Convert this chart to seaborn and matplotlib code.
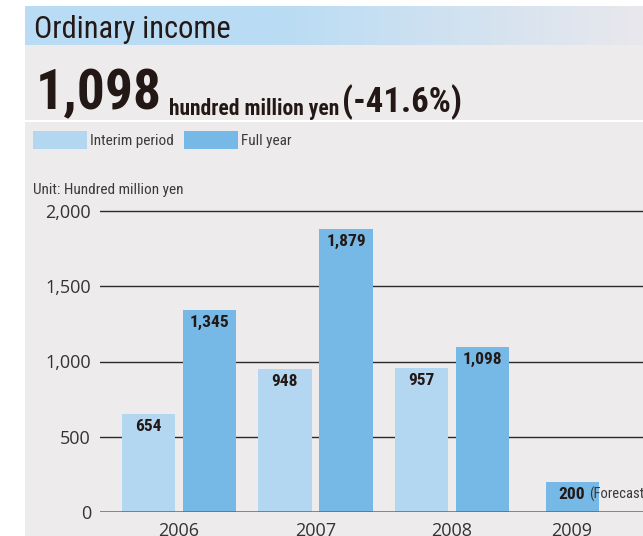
import matplotlib
matplotlib.use("Agg")
import matplotlib.pyplot as plt
import numpy as np
import pandas as pd
import seaborn as sns
from matplotlib.patches import Rectangle
from matplotlib.colors import to_rgb

# ---- data -------------------------------------------------------------
years = ["2006", "2007", "2008", "2009"]
interim = [654, 948, 957, None]
full_year = [1345, 1879, 1098, 200]
series_names = ["Interim period", "Full year"]
y_ticks = [0, 500, 1000, 1500, 2000]

title = "Ordinary income"
headline_value = "1,098"
headline_unit = "hundred million yen"
headline_change = "(-41.6%)"
unit_note = "Unit: Hundred million yen"
forecast_note = "(Forecast)"

# ---- styling / layout -------------------------------------------------
C_INTERIM = "#b3d6f1"
C_FULL = "#76b8e6"
PANEL = "#eeebec"
BAND = "#b9dcf4"
TXT = "#231815"
NARROW = ["Roboto Condensed", "Archivo Narrow", "Barlow Condensed", "DejaVu Sans"]
TICKFONT = ["Open Sans", "DejaVu Sans"]

group_pos = [0.0, 1.0, 2.0, 2.88]   # slot centres of the year groups
pair_offset = 0.2235                 # half distance between paired bars

rows = []
for i, yr in enumerate(years):
    has_pair = interim[i] is not None
    if has_pair:
        rows.append(dict(pos=group_pos[i] - pair_offset, value=interim[i],
                         series=series_names[0]))
    rows.append(dict(pos=group_pos[i] + (pair_offset if has_pair else 0.0),
                     value=full_year[i], series=series_names[1]))
df = pd.DataFrame(rows)

W, H = 643, 536
fig = plt.figure(figsize=(W / 100, H / 100), dpi=100)
fig.patch.set_facecolor("white")

# background canvas in pixel units
bg = fig.add_axes([0, 0, 1, 1])
bg.axis("off")
bg.add_patch(Rectangle((25, 6), W - 25, H - 6, color=PANEL, lw=0, zorder=0))

# title band: solid blue fading into the panel grey towards the right
n = 400
xs = np.linspace(25, W, n)
t = np.clip((xs - 280) / (W - 280), 0, 1)
c0, c1 = np.array(to_rgb(BAND)), np.array(to_rgb("#e9e8ed"))
grad = (c0[None, :] * (1 - t[:, None]) + c1[None, :] * t[:, None])[None, :, :]
bg.imshow(grad, extent=(25, W, 45, 6), aspect="auto", zorder=1,
          interpolation="bilinear")
bg.set_xlim(0, W)
bg.set_ylim(H, 0)

bg.plot([25, W], [121, 121], color="white", lw=1.5, zorder=2)

bg.text(34, 38, title, fontsize=22, family=NARROW, color=TXT,
        va="baseline", ha="left", zorder=3)
t1 = bg.text(36, 109, headline_value, fontsize=40, family=NARROW,
             fontweight="bold", color=TXT, va="baseline", ha="left", zorder=3)
t2 = bg.annotate(headline_unit, xy=(1, 0), xycoords=t1, xytext=(5, 0),
                 textcoords="offset points", fontsize=15.5, family=NARROW,
                 fontweight="bold", color=TXT, va="bottom", ha="left")
bg.annotate(headline_change, xy=(1, 0), xycoords=t2, xytext=(2, 0),
            textcoords="offset points", fontsize=25, family=NARROW,
            fontweight="bold", color=TXT, va="bottom", ha="left")

# legend swatches
for x0, name, col in [(33, series_names[0], C_INTERIM),
                      (184, series_names[1], C_FULL)]:
    bg.add_patch(Rectangle((x0, 131), 54, 18, color=col, lw=0, zorder=3))
    bg.text(x0 + 57, 141, name, fontsize=11, family=NARROW, color="#3a3a3a",
            va="center", ha="left", zorder=3)

bg.text(33, 190, unit_note, fontsize=11, family=NARROW, color="#3a3a3a",
        va="center", ha="left", zorder=3)

# ---- chart ------------------------------------------------------------
ax_top_px, ax_bot_px = 205, 512
ax = fig.add_axes([100 / W, (H - ax_bot_px) / H, (W - 100) / W,
                   (ax_bot_px - ax_top_px) / H])
ax.patch.set_alpha(0)

sns.barplot(data=df, x="pos", y="value", hue="series", hue_order=series_names,
            palette=[C_INTERIM, C_FULL], native_scale=True, dodge=False,
            width=0.87, saturation=1, errorbar=None, legend=False,
            linewidth=0, ax=ax, zorder=2)

px_per_val = 301 / 2000
ax.set_ylim(0, (ax_bot_px - ax_top_px) / px_per_val)
x0_unit = -79 / 136.5
ax.set_xlim(x0_unit, x0_unit + (W - 100) / 136.5)

ax.set_yticks(y_ticks)
ax.set_yticklabels([f"{v:,}" for v in y_ticks], family=TICKFONT,
                   fontsize=13, color="#333333")
ax.set_xticks(group_pos)
ax.set_xticklabels(years, family=TICKFONT, fontsize=13, color="#333333")
ax.tick_params(axis="y", length=0, pad=6.5)
ax.tick_params(axis="x", length=0, pad=7)
ax.set_xlabel("")
ax.set_ylabel("")
for s in ax.spines.values():
    s.set_visible(False)
for v in y_ticks[1:]:
    ax.axhline(v, color="#2a2a2a", lw=1.0, zorder=1)
ax.axhline(0, color="#666666", lw=1.8, zorder=3)

# value labels inside the top of each bar
last_label, last_x = None, -np.inf
for cont in ax.containers:
    texts = ax.bar_label(cont, fmt="{:,.0f}", label_type="edge", padding=-14.5,
                         fontsize=12.5, family=NARROW, fontweight="bold",
                         color=TXT)
    for bar, txt in zip(cont.patches, texts):
        cx = bar.get_x() + bar.get_width() / 2
        if cx > last_x:
            last_x, last_label = cx, txt

ax.annotate(forecast_note, xy=(1, 0), xycoords=last_label, xytext=(3, 0),
            textcoords="offset points", fontsize=10.5, family=NARROW,
            color="#3a3a3a", va="bottom", ha="left", annotation_clip=False)

fig.savefig("out.png", dpi=100)
